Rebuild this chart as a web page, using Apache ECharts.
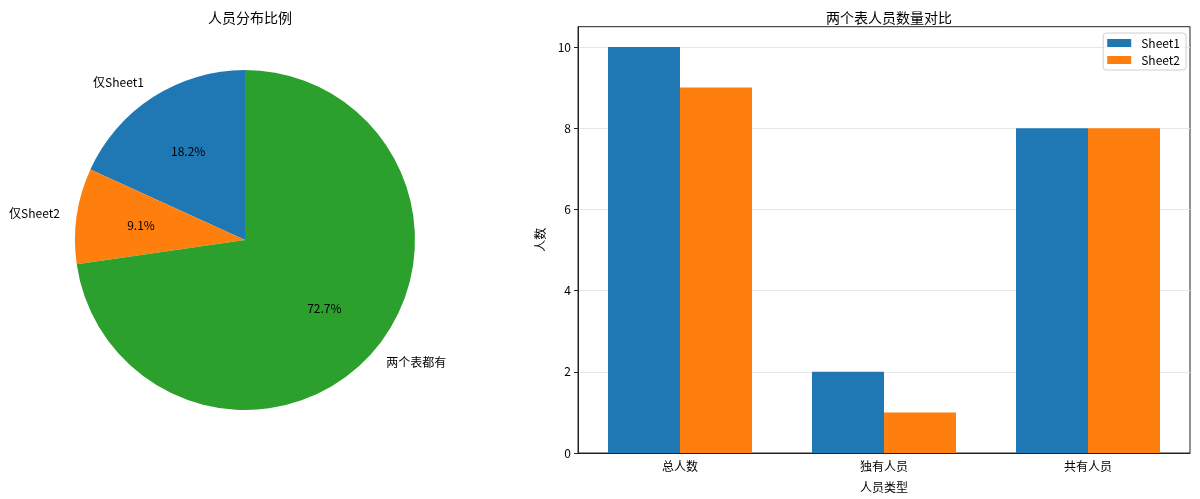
<!DOCTYPE html>
<html>
<head>
<meta charset="utf-8">
<script src="https://cdn.jsdelivr.net/npm/echarts@6/dist/echarts.min.js"></script>
<style>
html,body{margin:0;padding:0;background:#fff;}
#main{width:1200px;height:499px;}
</style>
</head>
<body>
<div id="main"></div>
<script>
// Pie data
const pieTitle = '人员分布比例';
const pieNames = ['仅Sheet1', '仅Sheet2', '两个表都有'];
const pieValues = [2, 1, 8];
const pieColors = ['#1f77b4', '#ff7f0e', '#2ca02c'];

// Bar data
const barTitle = '两个表人员数量对比';
const categories = ['总人数', '独有人员', '共有人员'];
const sheet1Values = [10, 2, 8];
const sheet2Values = [9, 1, 8];
const seriesNames = ['Sheet1', 'Sheet2'];
const barColors = ['#1f77b4', '#ff7f0e'];
const yTicks = [0, 2, 4, 6, 8, 10];
const xAxisName = '人员类型';
const yAxisName = '人数';

const FONT = '"Noto Sans CJK SC", "Noto Sans", sans-serif';
const chart = echarts.init(document.getElementById('main'), null, {renderer: 'canvas'});

const pieData = pieNames.map((n, i) => ({name: n, value: pieValues[i], itemStyle: {color: pieColors[i]}}));

const option = {
  animation: false,
  textStyle: {fontFamily: FONT},
  title: [
    {text: pieTitle, left: 245, top: 6, textAlign: 'center',
     textStyle: {fontSize: 14, fontWeight: 'normal', color: '#000', fontFamily: FONT}},
    {text: barTitle, left: 884, top: 6, textAlign: 'center',
     textStyle: {fontSize: 14, fontWeight: 'normal', color: '#000', fontFamily: FONT}}
  ],
  legend: {
    data: seriesNames,
    orient: 'vertical',
    right: 14,
    top: 33,
    itemWidth: 24,
    itemHeight: 8,
    itemGap: 5,
    padding: [4, 6, 4, 4],
    borderColor: '#d0d0d0',
    borderWidth: 1,
    borderRadius: 3,
    backgroundColor: 'rgba(255,255,255,0.8)',
    icon: 'rect',
    textStyle: {fontSize: 12, color: '#000', fontFamily: FONT, padding: [0, 0, 0, 5]}
  },
  grid: {
    left: 578, right: 10, top: 26.7, bottom: 46,
    show: true, borderColor: '#222', borderWidth: 1, backgroundColor: 'transparent'
  },
  xAxis: {
    type: 'category',
    data: categories,
    name: xAxisName,
    nameLocation: 'middle',
    nameGap: 28,
    nameTextStyle: {fontSize: 12, color: '#000', fontFamily: FONT},
    axisLine: {lineStyle: {color: '#222', width: 1}},
    axisTick: {alignWithLabel: true, length: 4, lineStyle: {color: '#222'}},
    axisLabel: {fontSize: 12, color: '#000', margin: 7, fontFamily: FONT},
    splitLine: {show: false}
  },
  yAxis: {
    type: 'value',
    min: 0,
    max: 10.5,
    interval: 2,
    name: yAxisName,
    nameLocation: 'middle',
    nameGap: 28,
    nameRotate: 90,
    nameTextStyle: {fontSize: 12, color: '#000', fontFamily: FONT},
    axisLine: {show: true, lineStyle: {color: '#222', width: 1}},
    axisTick: {show: true, length: 4, lineStyle: {color: '#222'}, customValues: yTicks},
    axisLabel: {fontSize: 12, color: '#000', margin: 7, fontFamily: FONT, customValues: yTicks},
    splitLine: {show: true, lineStyle: {color: '#e7e7e7', width: 1}}
  },
  series: [
    {
      type: 'pie',
      center: [245, 240],
      radius: [0, 170],
      startAngle: 90,
      clockwise: false,
      avoidLabelOverlap: false,
      silent: true,
      data: pieData,
      itemStyle: {borderWidth: 0},
      label: {
        show: true, position: 'outside', formatter: '{b}',
        fontSize: 12, color: '#000', fontFamily: FONT,
        distanceToLabelLine: 0, alignTo: 'none'
      },
      labelLine: {show: false, length: 17, length2: 0}
    },
    {
      type: 'pie',
      center: [245, 240],
      radius: [0, 204],
      startAngle: 90,
      clockwise: false,
      avoidLabelOverlap: false,
      silent: true,
      percentPrecision: 1,
      data: pieNames.map((n, i) => ({name: n, value: pieValues[i]})),
      itemStyle: {color: 'rgba(0,0,0,0)', borderWidth: 0},
      label: {show: true, position: 'inside', formatter: '{d}%', fontSize: 12, color: '#000', fontFamily: FONT},
      labelLine: {show: false}
    },
    {
      type: 'bar',
      name: seriesNames[0],
      data: sheet1Values,
      barWidth: 72,
      barGap: '0%',
      itemStyle: {color: barColors[0]}
    },
    {
      type: 'bar',
      name: seriesNames[1],
      data: sheet2Values,
      barWidth: 72,
      barGap: '0%',
      itemStyle: {color: barColors[1]}
    }
  ]
};
chart.setOption(option);
</script>
</body>
</html>
